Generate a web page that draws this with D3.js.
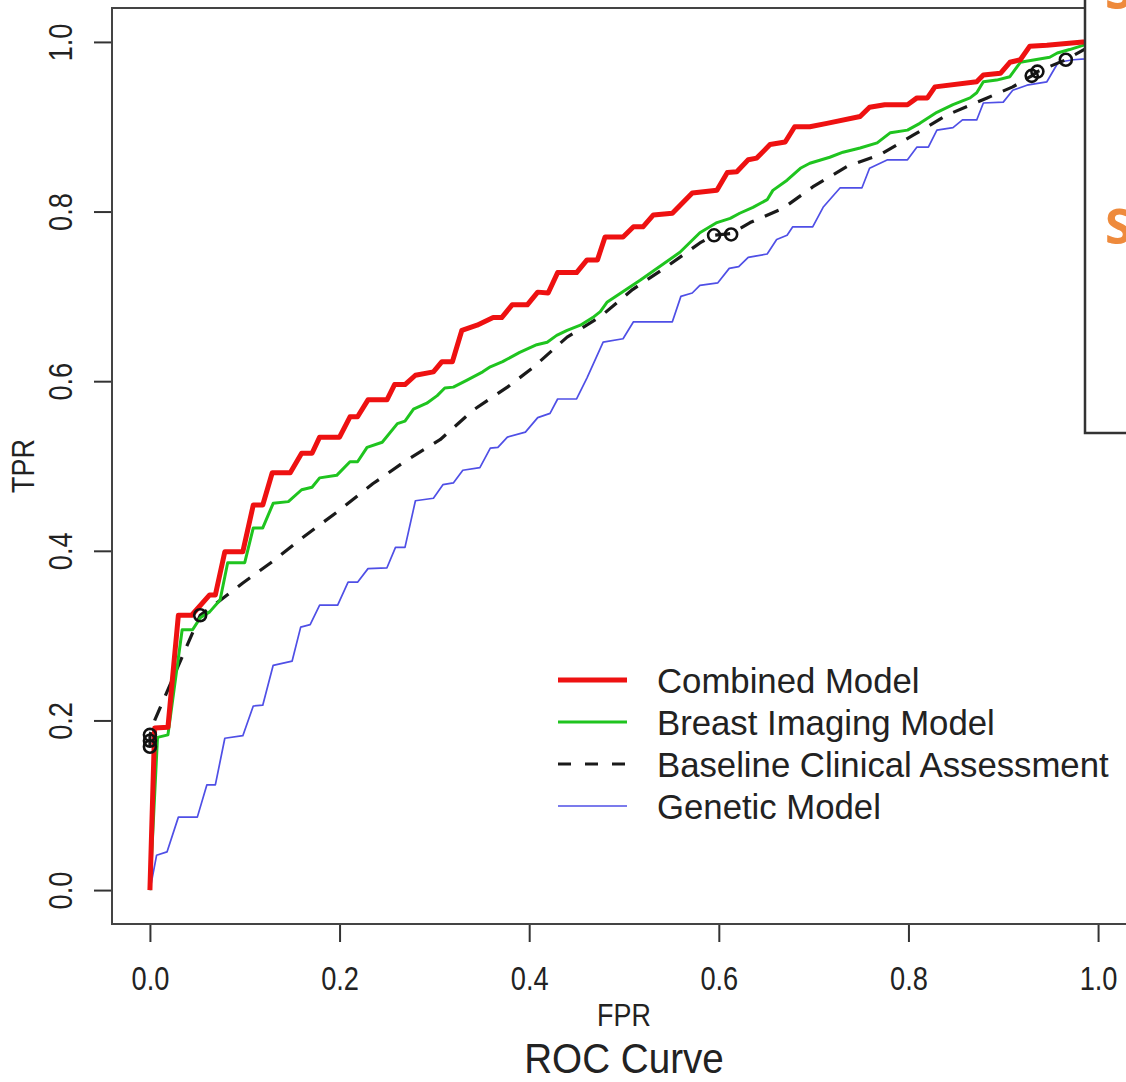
<!DOCTYPE html>
<html>
<head>
<meta charset="UTF-8">
<title>ROC Curve</title>
<script src="https://d3js.org/d3.v7.min.js"></script>
<style>
  body { margin: 0; background: #fff; }
  text { font-family: "Liberation Sans", Arial, sans-serif; fill: #222; }
</style>
</head>
<body>
<svg id="chart" width="1126" height="1082"></svg>
<script>
// ROC points (FPR, TPR)
const combinedFPR = [0, 0.005, 0.019, 0.030, 0.044, 0.063, 0.069, 0.079, 0.098, 0.109, 0.119, 0.129, 0.148, 0.160, 0.171, 0.179, 0.200, 0.211, 0.219, 0.230, 0.250, 0.258, 0.269, 0.280, 0.299, 0.308, 0.319, 0.329, 0.345, 0.362, 0.371, 0.382, 0.398, 0.409, 0.420, 0.430, 0.450, 0.461, 0.472, 0.480, 0.499, 0.510, 0.520, 0.531, 0.551, 0.572, 0.598, 0.609, 0.619, 0.631, 0.640, 0.654, 0.670, 0.680, 0.696, 0.714, 0.749, 0.759, 0.775, 0.799, 0.809, 0.820, 0.828, 0.872, 0.879, 0.897, 0.907, 0.918, 0.928, 0.946, 0.984, 1];
const combinedTPR = [0, 0.191, 0.192, 0.324, 0.324, 0.348, 0.348, 0.399, 0.399, 0.454, 0.454, 0.492, 0.492, 0.515, 0.515, 0.534, 0.534, 0.558, 0.558, 0.578, 0.578, 0.596, 0.596, 0.607, 0.611, 0.623, 0.623, 0.660, 0.666, 0.675, 0.675, 0.690, 0.690, 0.705, 0.704, 0.728, 0.728, 0.743, 0.743, 0.770, 0.770, 0.782, 0.782, 0.796, 0.798, 0.822, 0.825, 0.846, 0.847, 0.861, 0.863, 0.879, 0.882, 0.900, 0.900, 0.904, 0.912, 0.923, 0.926, 0.926, 0.934, 0.934, 0.947, 0.953, 0.961, 0.963, 0.976, 0.979, 0.995, 0.996, 1, 1];

const imagingFPR = [0, 0.008, 0.019, 0.034, 0.045, 0.053, 0.063, 0.074, 0.082, 0.100, 0.109, 0.119, 0.130, 0.146, 0.160, 0.171, 0.179, 0.197, 0.211, 0.219, 0.229, 0.245, 0.261, 0.269, 0.278, 0.292, 0.303, 0.311, 0.320, 0.334, 0.351, 0.359, 0.372, 0.390, 0.408, 0.419, 0.429, 0.440, 0.454, 0.467, 0.475, 0.482, 0.517, 0.559, 0.580, 0.598, 0.612, 0.622, 0.636, 0.651, 0.657, 0.672, 0.686, 0.696, 0.717, 0.731, 0.749, 0.767, 0.781, 0.799, 0.812, 0.823, 0.830, 0.847, 0.865, 0.872, 0.879, 0.893, 0.907, 0.918, 0.949, 0.957, 0.970, 0.984, 1];
const imagingTPR = [0, 0.180, 0.183, 0.307, 0.307, 0.321, 0.328, 0.342, 0.386, 0.386, 0.427, 0.427, 0.456, 0.458, 0.472, 0.475, 0.486, 0.489, 0.505, 0.505, 0.522, 0.528, 0.550, 0.553, 0.567, 0.574, 0.583, 0.592, 0.593, 0.601, 0.611, 0.617, 0.623, 0.634, 0.643, 0.646, 0.654, 0.660, 0.666, 0.675, 0.682, 0.693, 0.719, 0.752, 0.775, 0.787, 0.792, 0.798, 0.805, 0.814, 0.825, 0.837, 0.851, 0.857, 0.864, 0.870, 0.875, 0.881, 0.893, 0.896, 0.904, 0.912, 0.917, 0.926, 0.934, 0.940, 0.953, 0.955, 0.959, 0.976, 0.982, 0.987, 0.991, 0.996, 1];

const baselineFPR = [0, 0, 0.005, 0.053, 0.077, 0.098, 0.130, 0.158, 0.200, 0.235, 0.271, 0.306, 0.341, 0.377, 0.404, 0.440, 0.475, 0.509, 0.545, 0.580, 0.595, 0.613, 0.633, 0.668, 0.699, 0.735, 0.770, 0.805, 0.841, 0.883, 0.910, 0.930, 0.936, 0.966, 1];
const baselineTPR = [0.169, 0.183, 0.200, 0.324, 0.344, 0.362, 0.388, 0.413, 0.448, 0.479, 0.507, 0.531, 0.566, 0.593, 0.616, 0.652, 0.676, 0.708, 0.735, 0.763, 0.772, 0.774, 0.787, 0.804, 0.829, 0.853, 0.867, 0.890, 0.914, 0.934, 0.947, 0.960, 0.965, 0.979, 1];

const geneticFPR = [0, 0.007, 0.018, 0.030, 0.050, 0.060, 0.069, 0.079, 0.098, 0.109, 0.119, 0.130, 0.150, 0.159, 0.169, 0.179, 0.198, 0.209, 0.219, 0.230, 0.250, 0.259, 0.269, 0.280, 0.299, 0.309, 0.320, 0.330, 0.348, 0.359, 0.367, 0.377, 0.396, 0.409, 0.422, 0.430, 0.450, 0.461, 0.478, 0.499, 0.510, 0.551, 0.560, 0.572, 0.580, 0.599, 0.611, 0.621, 0.631, 0.651, 0.661, 0.672, 0.678, 0.699, 0.710, 0.728, 0.751, 0.759, 0.778, 0.799, 0.809, 0.821, 0.830, 0.847, 0.857, 0.872, 0.879, 0.900, 0.910, 0.925, 0.946, 0.958, 0.974, 0.986, 1];
const geneticTPR = [0, 0.041, 0.045, 0.086, 0.086, 0.124, 0.124, 0.179, 0.182, 0.217, 0.218, 0.265, 0.270, 0.310, 0.313, 0.336, 0.336, 0.363, 0.363, 0.379, 0.380, 0.404, 0.404, 0.459, 0.462, 0.478, 0.480, 0.495, 0.498, 0.521, 0.522, 0.534, 0.540, 0.557, 0.562, 0.579, 0.579, 0.604, 0.646, 0.650, 0.670, 0.670, 0.700, 0.704, 0.713, 0.716, 0.733, 0.735, 0.746, 0.750, 0.767, 0.772, 0.782, 0.782, 0.805, 0.828, 0.828, 0.851, 0.861, 0.861, 0.876, 0.876, 0.896, 0.899, 0.908, 0.908, 0.928, 0.929, 0.943, 0.949, 0.953, 0.976, 0.979, 0.980, 1];

// cutoff markers on the baseline curve
const circleFPR = [0, 0, 0, 0.053, 0.595, 0.613, 0.930, 0.936, 0.966];
const circleTPR = [0.169, 0.176, 0.183, 0.324, 0.772, 0.773, 0.960, 0.965, 0.979];

const legendLabels = ["Combined Model", "Breast Imaging Model", "Baseline Clinical Assessment", "Genetic Model"];
const xTicks = [0, 0.2, 0.4, 0.6, 0.8, 1.0];
const yTicks = [0, 0.2, 0.4, 0.6, 0.8, 1.0];

const svg = d3.select("#chart");

// R style: 4% padding around the data range
const x = d3.scaleLinear().domain([-0.04, 1.04]).range([112, 1136]);
const y = d3.scaleLinear().domain([-0.04, 1.04]).range([924, 8]);

const series = [
  { fpr: geneticFPR,  tpr: geneticTPR,  color: "#4f4fe6", width: 1.7, dash: null },
  { fpr: baselineFPR, tpr: baselineTPR, color: "#1a1a1a", width: 3.2, dash: "15,12" },
  { fpr: imagingFPR,  tpr: imagingTPR,  color: "#1fc41f", width: 3,   dash: null },
  { fpr: combinedFPR, tpr: combinedTPR, color: "#ee1111", width: 5,   dash: null }
];

const line = d3.line().x(d => x(d[0])).y(d => y(d[1]));

svg.append("g").selectAll("path")
  .data(series)
  .enter().append("path")
  .attr("d", s => line(s.fpr.map((f, i) => [f, s.tpr[i]])))
  .attr("fill", "none")
  .attr("stroke", s => s.color)
  .attr("stroke-width", s => s.width)
  .attr("stroke-dasharray", s => s.dash)
  .attr("stroke-linejoin", "round");

svg.append("g").selectAll("circle")
  .data(circleFPR.map((f, i) => [f, circleTPR[i]]))
  .enter().append("circle")
  .attr("cx", d => x(d[0]))
  .attr("cy", d => y(d[1]))
  .attr("r", 6)
  .attr("fill", "none")
  .attr("stroke", "#111")
  .attr("stroke-width", 2.6);

// box
svg.append("rect")
  .attr("x", 112).attr("y", 8)
  .attr("width", 1024).attr("height", 916)
  .attr("fill", "none")
  .attr("stroke", "#444")
  .attr("stroke-width", 2);

// axes
const xAxis = svg.append("g")
  .attr("transform", "translate(0,925)")
  .call(d3.axisBottom(x).tickValues(xTicks).tickSize(17).tickFormat(d3.format(".1f")));
const yAxis = svg.append("g")
  .attr("transform", "translate(111,0)")
  .call(d3.axisLeft(y).tickValues(yTicks).tickSize(17).tickFormat(d3.format(".1f")));

[xAxis, yAxis].forEach(a => {
  a.select(".domain").remove();
  a.selectAll(".tick line").attr("stroke", "#333").attr("stroke-width", 2);
});

xAxis.selectAll(".tick text")
  .attr("y", 0).attr("dy", null)
  .attr("transform", "translate(0,65) scale(0.8,1)")
  .attr("font-size", 34);

yAxis.selectAll(".tick text")
  .attr("x", 0).attr("dy", null)
  .attr("text-anchor", "middle")
  .attr("transform", "translate(-39,0) rotate(-90) scale(0.8,1)")
  .attr("font-size", 34);

function label(txt, tx, ty, size, sx, rot) {
  svg.append("text")
    .attr("transform", `translate(${tx},${ty}) rotate(${rot || 0}) scale(${sx},1)`)
    .attr("text-anchor", "middle")
    .attr("font-size", size)
    .text(txt);
}
label("FPR", 624, 1026, 32, 0.84);
label("TPR", 34, 466, 32, 0.84, -90);
label("ROC Curve", 624, 1073, 42, 0.92);

// legend
const legend = svg.append("g");
const legendSeries = [series[3], series[2], series[1], series[0]];
legendLabels.forEach((name, i) => {
  const s = legendSeries[i];
  const ly = 680 + i * 42;
  legend.append("line")
    .attr("x1", 558).attr("x2", 627)
    .attr("y1", ly).attr("y2", ly)
    .attr("stroke", s.color)
    .attr("stroke-width", s.width)
    .attr("stroke-dasharray", s.dash ? "13,14" : null);
  legend.append("text")
    .attr("transform", `translate(657,${ly + 13}) scale(0.965,1)`)
    .attr("font-size", 36)
    .text(name);
});

// slide panel overlapping the right edge
svg.append("rect")
  .attr("x", 1085).attr("y", -10)
  .attr("width", 80).attr("height", 443)
  .attr("fill", "#fff")
  .attr("stroke", "#333")
  .attr("stroke-width", 2.5);
svg.selectAll(".slide")
  .data([9, 244])
  .enter().append("text")
  .attr("x", 1105).attr("y", d => d)
  .attr("font-size", 49)
  .style("font-family", "'Open Sans', sans-serif")
  .style("font-weight", 700)
  .style("fill", "#ee8a3c")
  .text("S");
</script>
</body>
</html>
